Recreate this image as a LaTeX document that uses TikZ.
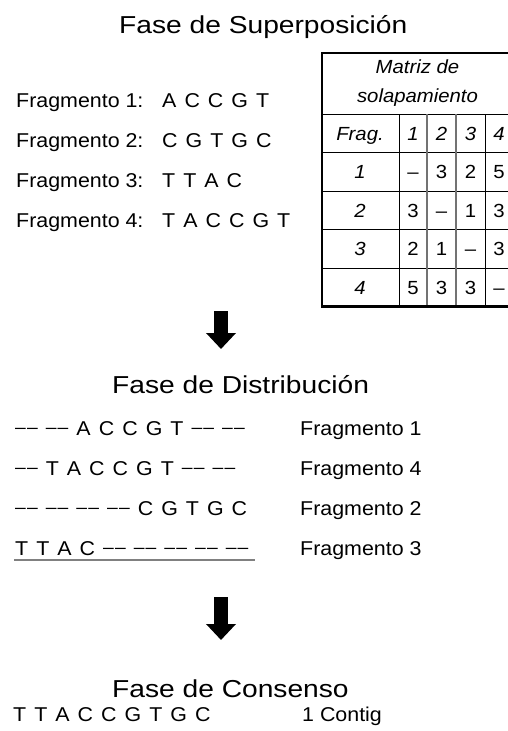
\documentclass[tikz,border=0pt]{standalone}
\usepackage{fontspec}
\setmainfont{Liberation Sans}[FakeStretch=1.07]
\newfontfamily\titlefont{Liberation Sans}[FakeStretch=1.15]
\newfontfamily\seqfont{Liberation Sans}[FakeStretch=1.07,WordSpace=1.35]
\usetikzlibrary{arrows.meta}
\newcommand\dd{\raisebox{1.6pt}{\fontsize{18}{18}\selectfont\textendash\kern1.2pt\textendash}}
\tikzset{
  ttl/.style={anchor=base west, inner sep=0pt, font=\titlefont\fontsize{24.5}{28}\selectfont},
  txt/.style={anchor=base west, inner sep=0pt, font=\fontsize{20}{24}\selectfont},
  seq/.style={anchor=base west, inner sep=0pt, font=\seqfont\fontsize{20}{24}\selectfont},
  cell/.style={anchor=base, inner sep=0pt, font=\fontsize{19}{22}\selectfont},
  icell/.style={anchor=base, inner sep=0pt, font=\itshape\fontsize{19}{22}\selectfont},
  outer/.style={line width=2.5pt, black},
  hline/.style={line width=1pt, black},
  vline/.style={line width=1pt, black},
  gline/.style={line width=1.3pt, black!55},
  bigarrow/.style={line width=14pt, -{Triangle[width=29pt,length=16pt]}},
  underl/.style={line width=1.3pt, black!50}
}
\begin{document}
\begin{tikzpicture}[x=1pt,y=-1pt]
\useasboundingbox (0,0) rectangle (508,731);
\clip (0,0) rectangle (508,731);
\fill[white] (0,0) rectangle (508,731);

% ---------- Superposicion ----------
\node[ttl] (t1) at (119,33) {Fase de Superposición};
\node[txt] (f1) at (16,107) {Fragmento 1:};
\node[txt] (f2) at (16,147) {Fragmento 2:};
\node[txt] (f3) at (16,187) {Fragmento 3:};
\node[txt] (f4) at (16,227) {Fragmento 4:};
\node[seq] (s1) at (162,107) {A C C G T};
\node[seq] (s2) at (162,147) {C G T G C};
\node[seq] (s3) at (162,187) {T T A C};
\node[seq] (s4) at (162,227) {T A C C G T};

% ---------- Matrix table ----------
\draw[hline] (322,114) -- (513,114);
\draw[hline] (322,152.5) -- (513,152.5);
\draw[hline] (322,191) -- (513,191);
\draw[hline] (322,229.5) -- (513,229.5);
\draw[hline] (322,268) -- (513,268);
\draw[vline] (399,114) -- (399,306.5);
\draw[gline] (427,114) -- (427,306.5);
\draw[gline] (456,114) -- (456,306.5);
\draw[vline] (485,114) -- (485,306.5);
\draw[outer] (322,53) rectangle (513,306.5);

\node[icell] (mh1) at (417.5,73) {Matriz de};
\node[icell] (mh2) at (417.5,102) {solapamiento};
\node[icell] (h0) at (360,140) {Frag.};
\node[icell] (h1) at (413,140) {1};
\node[icell] (h2) at (441.5,140) {2};
\node[icell] (h3) at (470.5,140) {3};
\node[icell] (h4) at (499,140) {4};

\node[icell] (r1) at (360,178.5) {1};
\node[cell] (c11) at (413,178.5) {\textendash};
\node[cell] (c12) at (441.5,178.5) {3};
\node[cell] (c13) at (470.5,178.5) {2};
\node[cell] (c14) at (499,178.5) {5};

\node[icell] (r2) at (360,217) {2};
\node[cell] (c21) at (413,217) {3};
\node[cell] (c22) at (441.5,217) {\textendash};
\node[cell] (c23) at (470.5,217) {1};
\node[cell] (c24) at (499,217) {3};

\node[icell] (r3) at (360,255.5) {3};
\node[cell] (c31) at (413,255.5) {2};
\node[cell] (c32) at (441.5,255.5) {1};
\node[cell] (c33) at (470.5,255.5) {\textendash};
\node[cell] (c34) at (499,255.5) {3};

\node[icell] (r4) at (360,294) {4};
\node[cell] (c41) at (413,294) {5};
\node[cell] (c42) at (441.5,294) {3};
\node[cell] (c43) at (470.5,294) {3};
\node[cell] (c44) at (499,294) {\textendash};

% ---------- Arrow 1 ----------
\coordinate (a1s) at (221,311);
\coordinate (a1e) at (221,349);
\draw[bigarrow] (a1s) -- (a1e);

% ---------- Distribucion ----------
\node[ttl] (t2) at (112,393) {Fase de Distribución};
\node[seq] (d1) at (15,435) {\dd{} \dd{} A C C G T \dd{} \dd};
\node[seq] (d2) at (15,475) {\dd{} T A C C G T \dd{} \dd};
\node[seq] (d3) at (15,515) {\dd{} \dd{} \dd{} \dd{} C G T G C};
\node[seq] (d4) at (15,555) {T T A C \dd{} \dd{} \dd{} \dd{} \dd};
\coordinate (u1) at (14,560);
\coordinate (u2) at (255,560);
\draw[underl] (u1) -- (u2);
\node[txt] (l1) at (300,435) {Fragmento 1};
\node[txt] (l2) at (300,475) {Fragmento 4};
\node[txt] (l3) at (300,515) {Fragmento 2};
\node[txt] (l4) at (300,555) {Fragmento 3};

% ---------- Arrow 2 ----------
\coordinate (a2s) at (221,597);
\coordinate (a2e) at (221,640);
\draw[bigarrow] (a2s) -- (a2e);

% ---------- Consenso ----------
\node[ttl] (t3) at (112,697) {Fase de Consenso};
\node[seq] (cs) at (13,721) {T T A C C G T G C};
\node[txt] (cl) at (302,721) {1 Contig};
\end{tikzpicture}
\end{document}
